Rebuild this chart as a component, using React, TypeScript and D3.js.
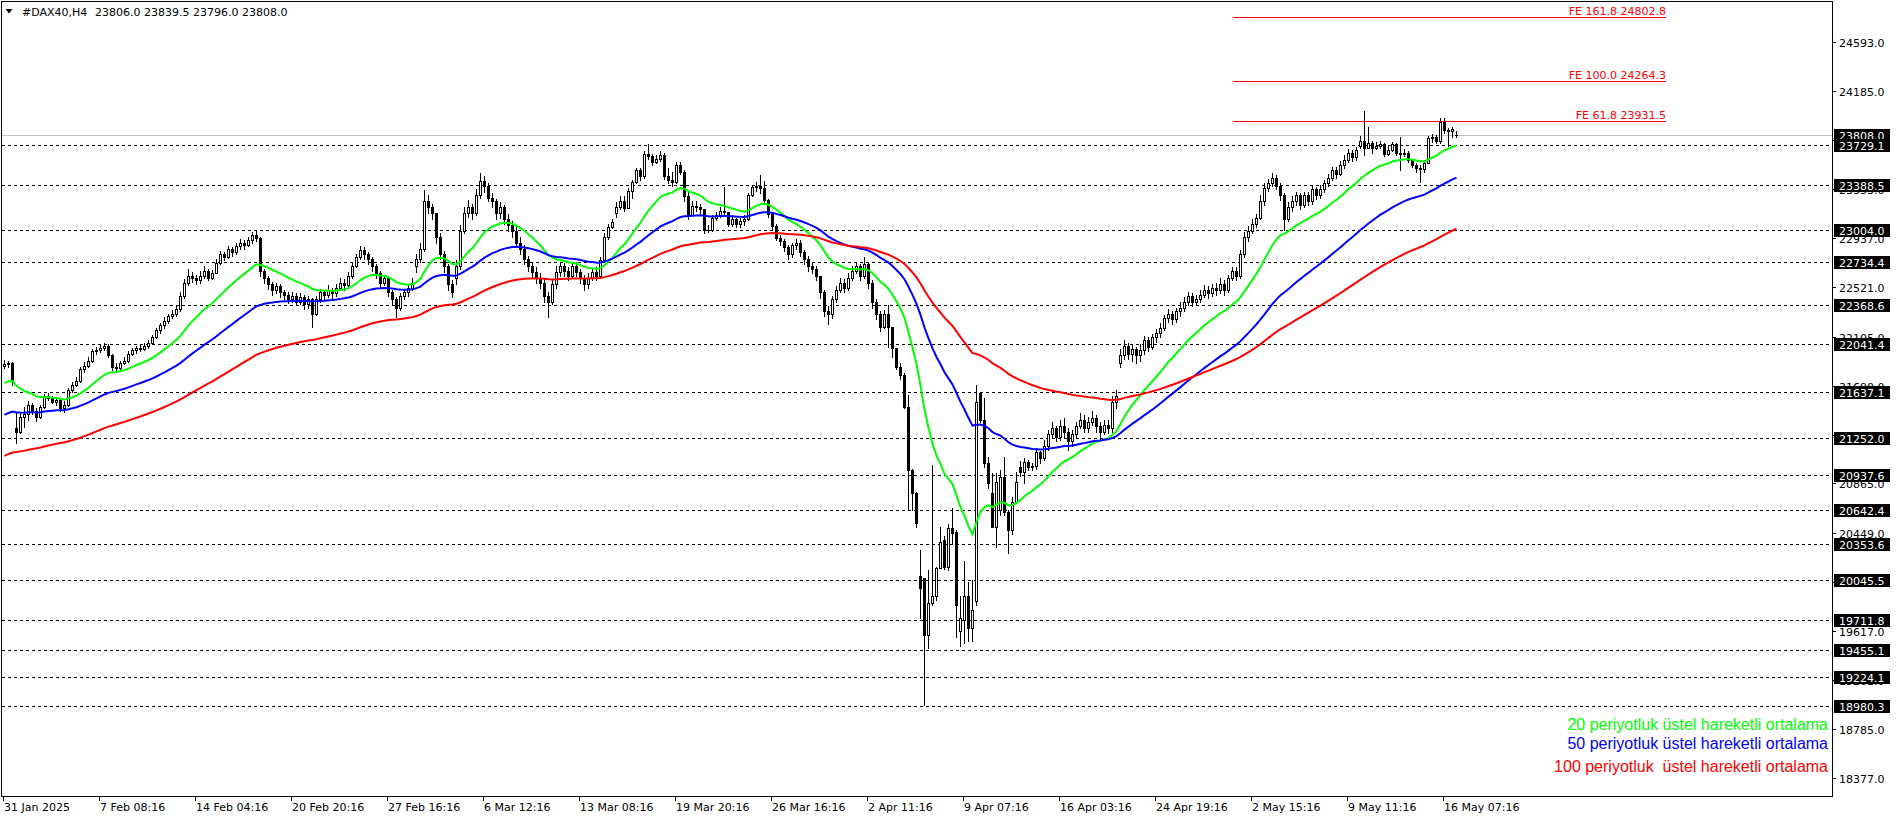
import React from 'react';
import * as d3 from 'd3';

// ---------- DATA ----------
const symbolTitle = '#DAX40,H4';
const headerOHLC = '23806.0 23839.5 23796.0 23808.0';

const closes = [
  21870, 21880, 21740, 21300, 21430, 21450, 21530, 21480, 21430, 21510,
  21600, 21590, 21555, 21570, 21500, 21530, 21650, 21700, 21730, 21830,
  21860, 21900, 21985, 21990, 22010, 22030, 21950, 21850, 21840, 21880,
  21900, 21960, 21990, 22010, 22000, 22030, 22050, 22100, 22160, 22200,
  22240, 22280, 22300, 22340, 22450, 22560, 22620, 22600, 22580, 22620,
  22660, 22600, 22640, 22730, 22800, 22780, 22850, 22820, 22870, 22900,
  22880, 22920, 22960, 22940, 22660, 22600, 22550, 22500, 22530, 22480,
  22460, 22420, 22450, 22400, 22440, 22380, 22420, 22300, 22420, 22480,
  22460, 22500, 22470, 22520, 22560, 22540, 22620, 22700, 22780, 22840,
  22800, 22760, 22700, 22640, 22560, 22600, 22480, 22420, 22350, 22450,
  22480, 22520, 22560, 22760, 22850, 23250, 23200, 23150, 22950, 22800,
  22700, 22550, 22480, 22700, 23000, 23150, 23200, 23150, 23300, 23420,
  23380, 23280, 23250, 23150, 23200, 23100, 23050, 23000, 22900, 22850,
  22760, 22700, 22650, 22600, 22560, 22450, 22400, 22550, 22650, 22700,
  22660, 22620, 22700, 22650, 22600, 22550, 22600, 22650, 22620, 22752,
  22950, 23034, 23076, 23200, 23250, 23190, 23340, 23410, 23510, 23460,
  23650, 23630, 23585, 23610, 23640, 23460, 23430, 23415, 23560, 23500,
  23290, 23135, 23210, 23200, 23180, 23010, 23010, 23110, 23130, 23170,
  23160, 23060, 23100, 23060, 23080, 23100, 23300, 23370, 23380, 23360,
  23260, 23140, 23040, 22940, 22910, 22860, 22800, 22880, 22900, 22820,
  22760, 22700, 22680, 22620, 22480, 22320, 22300, 22420, 22500, 22560,
  22520, 22600, 22660, 22700, 22620, 22720, 22560, 22400, 22300, 22190,
  22300, 22190, 22006, 21851, 21780, 21513, 20979, 20782, 20528, 19979,
  19585, 19853, 19909, 20148, 20370, 20162, 20486, 20444, 19839, 19726,
  19909, 19641, 19796, 21556, 21401, 21035, 20866, 20500, 20880, 20922,
  20627, 20472, 20711, 20880, 20965, 21049, 21007, 21010, 21133, 21080,
  21180, 21280, 21330, 21260, 21350, 21300, 21220, 21280, 21350, 21400,
  21330, 21380, 21420, 21350, 21300, 21360, 21330, 21550, 21600, 21950,
  22030, 21960, 22000, 21950, 21990, 22080, 22020, 22100, 22140, 22180,
  22260, 22300, 22250, 22320, 22350, 22400, 22450, 22400, 22420, 22460,
  22500, 22470, 22520, 22500, 22550, 22500, 22600, 22660, 22620, 22800,
  22950, 23000, 23060, 23110, 23250, 23360, 23400, 23450, 23380, 23300,
  23100, 23200, 23250, 23300, 23220, 23300, 23250, 23350, 23300, 23350,
  23400, 23450, 23510, 23480, 23560, 23600, 23660, 23620, 23680, 23760,
  23700, 23740, 23700, 23720, 23730, 23650, 23680, 23730, 23660, 23650,
  23660, 23600, 23560, 23530, 23520, 23570, 23780, 23790, 23760, 23920,
  23850, 23840, 23860, 23808,
];

const highs = [
  21905, 21900, 21890, 21460, 21460, 21510, 21560, 21545, 21500, 21530,
  21620, 21630, 21600, 21590, 21580, 21560, 21670, 21720, 21760, 21850,
  21890, 21930, 22000, 22020, 22040, 22050, 22040, 21960, 21880, 21900,
  21930, 21980, 22010, 22030, 22040, 22050, 22080, 22120, 22180, 22220,
  22270, 22300, 22330, 22370, 22480, 22590, 22680, 22650, 22630, 22660,
  22700, 22680, 22670, 22760, 22830, 22820, 22870, 22860, 22900, 22930,
  22920, 22950, 22990, 23010, 22950, 22680, 22620, 22570, 22560, 22550,
  22500, 22480, 22480, 22470, 22470, 22460, 22450, 22430, 22450, 22510,
  22500, 22540, 22520, 22550, 22600, 22590, 22650, 22730, 22800, 22870,
  22860, 22820, 22780, 22720, 22660, 22630, 22610, 22500, 22440, 22470,
  22510, 22550, 22600, 22800, 22900, 23345, 23300, 23230, 23120, 22980,
  22830, 22720, 22580, 22750, 23050, 23200, 23260, 23230, 23350, 23490,
  23460, 23400, 23320, 23270, 23240, 23220, 23140, 23080, 23050, 22950,
  22880, 22790, 22730, 22690, 22640, 22600, 22480, 22580, 22700, 22740,
  22730, 22690, 22730, 22740, 22680, 22630, 22640, 22680, 22690, 22780,
  22980, 23060, 23100, 23240, 23290, 23290, 23360, 23430, 23530, 23530,
  23670, 23732, 23650, 23640, 23670, 23660, 23530, 23500, 23580, 23580,
  23510, 23330, 23250, 23250, 23230, 23180, 23050, 23130, 23160, 23200,
  23370, 23160, 23130, 23110, 23110, 23130, 23320, 23390, 23410, 23470,
  23420, 23270, 23160, 23060, 22960, 22930, 22880, 22900, 22930, 22920,
  22840, 22790, 22730, 22700, 22600, 22500, 22360, 22450, 22530, 22600,
  22590, 22640, 22700, 22740, 22720, 22780, 22740, 22580, 22420, 22320,
  22330, 22372, 22190, 22010, 21880, 21800, 21612, 20990, 20790, 20300,
  20063, 20134, 21020, 20160, 20500, 20420, 20520, 20655, 20470, 19910,
  20205, 20035, 20050, 21697, 21640, 21584, 21090, 20950, 20950, 20980,
  21090, 20640, 20750, 20964, 21050, 21077, 21060, 21040, 21160, 21140,
  21230, 21320, 21380, 21350, 21400, 21420, 21330, 21320, 21380, 21460,
  21440, 21430, 21480, 21440, 21380, 21400, 21400, 21600, 21650, 22000,
  22080, 22050, 22040, 22020, 22040, 22110, 22100, 22130, 22170, 22220,
  22290, 22340, 22320, 22350, 22400, 22440, 22480, 22470, 22460, 22500,
  22540, 22530, 22550, 22560, 22600, 22580, 22630, 22690, 22690, 22840,
  22990, 23040, 23100, 23140, 23300, 23400, 23440, 23490, 23470, 23400,
  23320, 23240, 23290, 23330, 23320, 23330, 23330, 23380, 23370, 23390,
  23430, 23480, 23540, 23540, 23590, 23640, 23690, 23680, 23710, 23800,
  24010, 23880, 23760, 23750, 23760, 23740, 23720, 23750, 23740, 23790,
  23690, 23670, 23610, 23570, 23560, 23600, 23800, 23820, 23810, 23955,
  23955, 23870, 23880, 23839.5,
];

const lows = [
  21840, 21845, 21700, 21206, 21290, 21345, 21400, 21450, 21390, 21420,
  21500, 21570, 21540, 21530, 21480, 21470, 21520, 21640, 21690, 21720,
  21810, 21850, 21890, 21960, 21975, 21990, 21930, 21820, 21810, 21830,
  21870, 21890, 21950, 21970, 21980, 21990, 22010, 22040, 22090, 22140,
  22180, 22220, 22260, 22280, 22320, 22430, 22540, 22570, 22550, 22560,
  22600, 22580, 22590, 22650, 22720, 22750, 22770, 22790, 22800, 22850,
  22850, 22870, 22900, 22910, 22620, 22560, 22510, 22460, 22470, 22440,
  22420, 22390, 22400, 22370, 22380, 22340, 22350, 22190, 22290, 22400,
  22420, 22440, 22430, 22450, 22500, 22500, 22530, 22600, 22690, 22760,
  22760, 22720, 22660, 22600, 22520, 22540, 22450, 22380, 22270, 22330,
  22420, 22450, 22500, 22650, 22740, 22830, 23150, 23100, 22900, 22760,
  22650, 22500, 22440, 22550, 22680, 22980, 23120, 23100, 23130, 23280,
  23330, 23250, 23200, 23100, 23110, 23060, 23000, 22950, 22880, 22800,
  22720, 22660, 22610, 22560, 22520, 22400, 22270, 22380, 22520, 22620,
  22620, 22580, 22600, 22620, 22560, 22500, 22520, 22580, 22580, 22600,
  22740, 22930, 23020, 23120, 23180, 23170, 23190, 23280, 23400, 23430,
  23450, 23610, 23560, 23570, 23590, 23440, 23400, 23380, 23400, 23480,
  23250, 23100, 23130, 23170, 23140, 22980, 22990, 23000, 23090, 23120,
  23130, 23040, 23040, 23030, 23030, 23050, 23090, 23290, 23340, 23320,
  23240, 23120, 23010, 22920, 22880, 22830, 22760, 22780, 22850, 22790,
  22720, 22660, 22640, 22580, 22430, 22280, 22210, 22260, 22400, 22480,
  22480, 22500, 22580, 22640, 22580, 22600, 22520, 22350, 22250, 22150,
  22180, 22020, 21936, 21830, 21750, 21500, 20640, 20640, 20500, 19726,
  18994, 19472, 19840, 19880, 20220, 20140, 20130, 20360, 19570, 19487,
  19515, 19530, 19530, 19840, 21380, 21000, 20823, 20500, 20331, 20600,
  20600, 20275, 20440, 20700, 20930, 20866, 20980, 20980, 20990, 21040,
  21060, 21150, 21250, 21220, 21230, 21260, 21150, 21180, 21250, 21330,
  21300, 21300, 21360, 21300, 21220, 21280, 21290, 21300, 21500, 21850,
  21920, 21920, 21900, 21880, 21900, 21960, 21980, 22000, 22060, 22100,
  22160, 22230, 22210, 22230, 22280, 22320, 22370, 22360, 22370, 22400,
  22440, 22430, 22450, 22460, 22470, 22460, 22480, 22580, 22580, 22600,
  22780, 22910, 22980, 23030, 23100, 23220, 23340, 23380, 23350, 23260,
  23010, 23080, 23170, 23220, 23180, 23200, 23220, 23230, 23270, 23280,
  23330, 23380, 23430, 23450, 23470, 23530, 23580, 23590, 23600, 23700,
  23640, 23700, 23660, 23690, 23700, 23630, 23640, 23670, 23640, 23512,
  23630, 23580, 23540, 23500, 23414, 23500, 23570, 23750, 23740, 23740,
  23830, 23720, 23790, 23796,
];

// opens that differ from the previous close (gaps): [barIndex, open]
const gapOpens: [number, number][] = [
  [0, 21860], [3, 21330], [103, 22700], [113, 22600], [153, 23150],
  [229, 20078], [230, 20063], [232, 19853], [235, 20387], [238, 20458],
  [239, 19613], [240, 19712], [243, 19867], [244, 21626], [247, 20782],
  [249, 20641], [254, 21007], [279, 21880], [339, 23720], [363, 23806],
];

// EMA values at the first visible bar (history before the window)
const emaPeriods = [20, 50, 100];
const emaStart = [21713, 21443, 21098];
const emaColors = ['#00ff00', '#0000ff', '#ff0000'];

const timeLabels = [
  '31 Jan 2025', '7 Feb 08:16', '14 Feb 04:16', '20 Feb 20:16', '27 Feb 16:16',
  '6 Mar 12:16', '13 Mar 08:16', '19 Mar 20:16', '26 Mar 16:16', '2 Apr 11:16',
  '9 Apr 07:16', '16 Apr 03:16', '24 Apr 19:16', '2 May 15:16', '9 May 11:16',
  '16 May 07:16',
];
const timeLabelStep = 24;

const priceTicks = [
  24593, 24185, 23769, 23353, 22937, 22521, 22105, 21690, 21273, 20865,
  20449, 20033, 19617, 19201, 18785, 18377,
];

const levelLines = [
  23729.1, 23388.5, 23004.0, 22734.4, 22368.6, 22041.4, 21637.1, 21252.0,
  20937.6, 20642.4, 20353.6, 20045.5, 19711.8, 19455.1, 19224.1, 18980.3,
];
const currentPrice = 23808.0;

const feNames = ['FE 161.8', 'FE 100.0', 'FE 61.8'];
const feValues = [24802.8, 24264.3, 23931.5];
const feBarRange = [307.25, 415.5];

const legendTexts = [
  '20 periyotluk üstel hareketli ortalama',
  '50 periyotluk üstel hareketli ortalama',
  '100 periyotluk  üstel hareketli ortalama',
];

// ---------- CHART ----------
const W = 1896;
const H = 820;
const PLOT_R = 1832;
const PLOT_B = 796;
const FONT = "'DejaVu Sans', Tahoma, sans-serif";

export default function App() {
  const n = closes.length;
  const x = d3.scaleLinear().domain([0, n - 1]).range([4, 4 + 4 * (n - 1)]);
  const y = d3.scaleLinear().domain([18377, 24593]).range([777.7, 42.3]);

  const gapMap = new Map(gapOpens);
  const candles = closes.map((c, i) => {
    const o = gapMap.has(i) ? (gapMap.get(i) as number) : i > 0 ? closes[i - 1] : c;
    const h = Math.max(highs[i], o, c);
    const l = Math.min(lows[i], o, c);
    return { i, o, h, l, c };
  });

  const emas = emaPeriods.map((p, k) => {
    const a = 2 / (p + 1);
    const out: number[] = [];
    let e = emaStart[k];
    closes.forEach((c, i) => {
      if (i > 0) e = e + a * (c - e);
      out.push(e);
    });
    return out;
  });

  const line = d3
    .line<number>()
    .x((_, i) => x(i) + 0.5)
    .y((v) => y(v))
    .curve(d3.curveLinear);

  const py = (v: number) => Math.round(y(v));

  return (
    <svg
      width={W}
      height={H}
      style={{ position: 'absolute', left: 0, top: 0, display: 'block', background: '#fff' }}
      fontFamily={FONT}
    >
      <rect x={0} y={0} width={W} height={H} fill="#fff" />

      {/* level dashed lines */}
      <g shapeRendering="crispEdges">
        {levelLines.map((v) => (
          <line
            key={v}
            x1={2}
            x2={PLOT_R}
            y1={py(v) + 0.5}
            y2={py(v) + 0.5}
            stroke="#000"
            strokeWidth={1}
            strokeDasharray="3,3"
          />
        ))}
        <line
          x1={2}
          x2={PLOT_R}
          y1={py(currentPrice) + 0.5}
          y2={py(currentPrice) + 0.5}
          stroke="#c0c0c0"
          strokeWidth={1}
        />
      </g>

      {/* FE lines */}
      <g>
        {feValues.map((v, k) => (
          <g key={v}>
            <line
              x1={x(feBarRange[0])}
              x2={x(feBarRange[1])}
              y1={py(v) + 0.5}
              y2={py(v) + 0.5}
              stroke="#ff0000"
              strokeWidth={1}
              shapeRendering="crispEdges"
            />
            <text
              x={x(feBarRange[1])}
              y={py(v) - 2}
              fontSize={11}
              fill="#ff0000"
              textAnchor="end"
            >
              {`${feNames[k]} ${v.toFixed(1)}`}
            </text>
          </g>
        ))}
      </g>

      {/* candles */}
      <g shapeRendering="crispEdges">
        {candles.map((d) => {
          const cx = Math.round(x(d.i));
          const yh = py(d.h);
          const yl = py(d.l);
          const yt = py(Math.max(d.o, d.c));
          const yb = py(Math.min(d.o, d.c));
          const bull = d.c >= d.o;
          return (
            <g key={d.i}>
              <rect x={cx} y={yh} width={1} height={Math.max(1, yl - yh + 1)} fill="#000" />
              {yb - yt < 1 ? (
                <rect x={cx - 1} y={yt} width={3} height={1} fill="#000" />
              ) : bull ? (
                <rect
                  x={cx - 0.5}
                  y={yt + 0.5}
                  width={2}
                  height={yb - yt}
                  fill="#fff"
                  stroke="#000"
                  strokeWidth={1}
                />
              ) : (
                <rect x={cx - 1} y={yt} width={3} height={yb - yt + 1} fill="#000" />
              )}
            </g>
          );
        })}
      </g>

      {/* EMAs */}
      <g fill="none">
        {emas.map((e, k) => (
          <path key={k} d={line(e) || ''} stroke={emaColors[k]} strokeWidth={2} />
        ))}
      </g>

      {/* header */}
      <path d="M5.5,9 L12.5,9 L9,13.5 Z" fill="#000" />
      <text x={22} y={16} fontSize={11} fill="#000">
        {symbolTitle}
      </text>
      <text x={95} y={16} fontSize={11} fill="#000">
        {headerOHLC}
      </text>

      {/* legend */}
      {legendTexts.map((t, k) => (
        <text
          key={k}
          x={1828}
          y={[729.5, 748.5, 771.5][k]}
          fontSize={16}
          fontFamily="'Liberation Sans', Arial, sans-serif"
          fill={emaColors[k]}
          textAnchor="end"
          style={{ whiteSpace: 'pre' }}
          xmlSpace="preserve"
        >
          {t}
        </text>
      ))}

      {/* frame */}
      <rect
        x={1.5}
        y={1.5}
        width={PLOT_R - 1.5}
        height={PLOT_B - 1.5}
        fill="none"
        stroke="#000"
        strokeWidth={1}
        shapeRendering="crispEdges"
      />

      {/* right axis ticks */}
      <g fontSize={11} fill="#000">
        {priceTicks.map((v) => (
          <g key={v}>
            <line
              x1={PLOT_R}
              x2={PLOT_R + 4}
              y1={py(v) + 0.5}
              y2={py(v) + 0.5}
              stroke="#000"
              shapeRendering="crispEdges"
            />
            <text x={1839} y={py(v) + 5}>
              {v.toFixed(1)}
            </text>
          </g>
        ))}
      </g>

      {/* price label boxes */}
      <g fontSize={11}>
        {[currentPrice, ...levelLines].map((v) => (
          <g key={'b' + v}>
            <rect x={1834} y={py(v) - 6} width={56} height={13} fill="#000" shapeRendering="crispEdges" />
            <text x={1839} y={py(v) + 5} fill="#fff">
              {v.toFixed(1)}
            </text>
          </g>
        ))}
      </g>

      {/* time axis */}
      <g fontSize={11} fill="#000">
        {timeLabels.map((t, k) => {
          const tx = Math.round(x(k * timeLabelStep)) - 1;
          return (
            <g key={t}>
              <line
                x1={tx + 0.5}
                x2={tx + 0.5}
                y1={PLOT_B}
                y2={PLOT_B + 5}
                stroke="#000"
                shapeRendering="crispEdges"
              />
              <text x={tx + 1} y={811}>
                {t}
              </text>
            </g>
          );
        })}
      </g>
    </svg>
  );
}
